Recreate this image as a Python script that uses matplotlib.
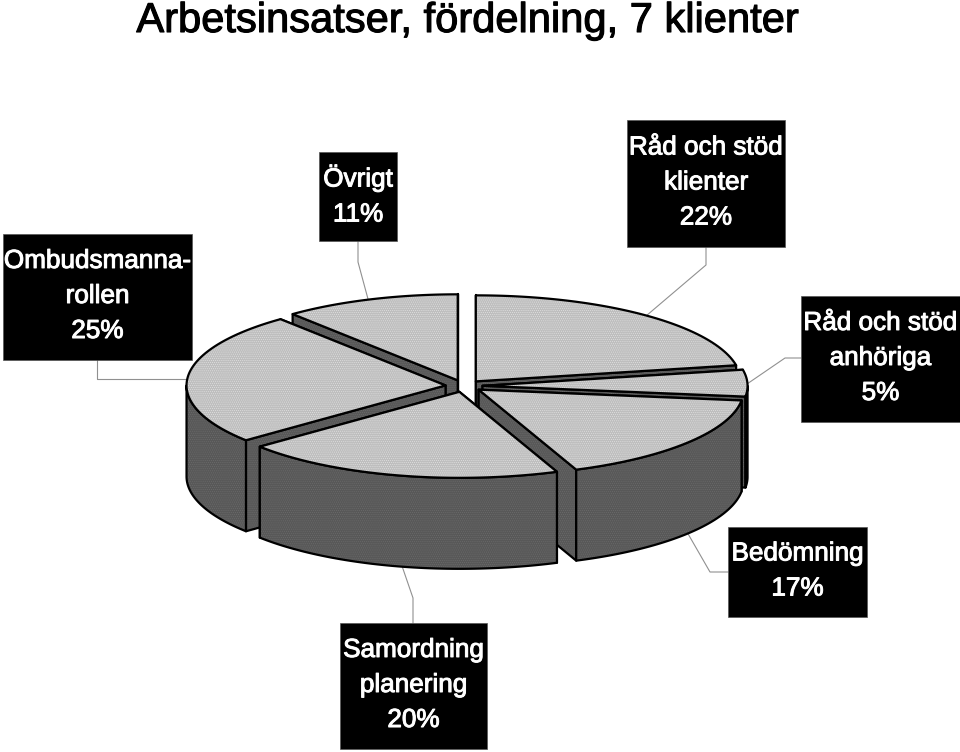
import numpy as np
import matplotlib
matplotlib.use('Agg')
import matplotlib.pyplot as plt
import matplotlib.patheffects as pe
from matplotlib.patches import Polygon, Rectangle

plt.rcParams['font.family'] = ['Liberation Sans', 'DejaVu Sans']
plt.rcParams['hatch.linewidth'] = 0.4

title = 'Arbetsinsatser, fördelning, 7 klienter'
shares = [22, 5, 17, 20, 25, 11]
names = ['Råd och stöd\nklienter', 'Råd och stöd\nanhöriga', 'Bedömning',
         'Samordning\nplanering', 'Ombudsmanna-\nrollen', 'Övrigt']

# label boxes and leader lines, pixels
boxes = [(627, 120, 785, 247), (801, 296, 960, 422), (728, 527, 867, 617),
         (340, 623, 487, 749), (3, 234, 192, 360), (319, 152, 397, 241)]
leaders = [[(706, 247), (706, 265), (646, 316)],
           [(801, 358), (785, 358), (747, 384)],
           [(728, 572), (710, 572), (687, 532)],
           [(413, 623), (413, 598), (402, 566)],
           [(97, 360), (97, 379), (185, 379)],
           [(358, 241), (358, 262), (368, 299)]]

cx, cy = 464, 386
rx_right, rx_left = 265, 259
ry = 86
depth = 91
explode = 0.07
top_color = '#bebebe'
wall_color = '#585858'

fig = plt.figure(figsize=(9.6, 7.52), dpi=100)
ax = fig.add_axes([0, 0, 1, 1])
ax.set_xlim(0, 960)
ax.set_ylim(752, 0)
ax.axis('off')


def pt(ax0, ay0, a):
    s = np.sin(a)
    return ax0 + np.where(s < 0, rx_left, rx_right) * s, ay0 - ry * np.cos(a)


def face(points, color, dots, z):
    ax.add_patch(Polygon(points, closed=True, facecolor=color, edgecolor=dots,
                         hatch='.' * 8, linewidth=0, zorder=z))
    ax.add_patch(Polygon(points, closed=True, fill=False, edgecolor='black',
                         linewidth=1.6, joinstyle='round', zorder=z + 0.01))


edges = np.radians(np.concatenate([[0], np.cumsum(shares) * 3.6]))
slices = []
for i in range(len(shares)):
    mid = (edges[i] + edges[i + 1]) / 2
    ox = cx + explode * rx_right * np.sin(mid)
    oy = cy - explode * ry * np.cos(mid)
    slices.append((oy, ox, edges[i], edges[i + 1]))

# back to front
z = 2
for oy, ox, a0, a1 in sorted(slices, key=lambda s: s[0]):
    cuts = sorted([a0, a1], key=lambda a: pt(ox, oy, a)[1])
    for a in cuts:
        x, y = pt(ox, oy, a)
        face([(ox, oy), (x, y), (x, y + depth), (ox, oy + depth)], wall_color, '#6c6c6c', z)
        z += 1
    lo, hi = max(a0, np.pi / 2), min(a1, 1.5 * np.pi)
    if hi > lo:
        t = np.linspace(lo, hi, 60)
        xs, ys = pt(ox, oy, t)
        outer = list(zip(xs, ys)) + list(zip(xs[::-1], ys[::-1] + depth))
        face(outer, wall_color, '#6c6c6c', z)
        z += 1
    t = np.linspace(a0, a1, 80)
    xs, ys = pt(ox, oy, t)
    face([(ox, oy)] + list(zip(xs, ys)), top_color, '#e2e2e2', z)
    z += 1

for line in leaders:
    xs, ys = zip(*line)
    ax.plot(xs, ys, color='#909090', lw=0.8, zorder=1)

for box, name, share in zip(boxes, names, shares):
    x0, y0, x1, y1 = box
    ax.add_patch(Rectangle((x0, y0), x1 - x0, y1 - y0, facecolor='black',
                           edgecolor='#555555', lw=0.5, zorder=100))
    txt = ax.text((x0 + x1) / 2, (y0 + y1) / 2 - 1, f'{name}\n{share}%', color='white',
                  fontsize=18.8, ha='center', va='center', linespacing=1.58, zorder=101)
    txt.set_path_effects([pe.withStroke(linewidth=0.7, foreground='white')])

head = ax.text(467, 21, title, color='black', fontsize=30, ha='center', va='center')
head.set_path_effects([pe.withStroke(linewidth=0.8, foreground='black')])

fig.savefig('out.png', dpi=100)
